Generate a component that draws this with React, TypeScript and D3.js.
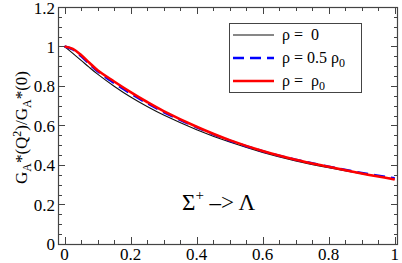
import React, { useEffect, useRef } from 'react';
import * as d3 from 'd3';

// Q^2 grid and the three density curves
const q2 = [0, 0.025, 0.05, 0.075, 0.1, 0.15, 0.2, 0.25, 0.3, 0.4, 0.5, 0.6, 0.7, 0.8, 0.9, 1.0];
const rho0 = [1, 0.965, 0.93, 0.894, 0.86, 0.799, 0.744, 0.696, 0.653, 0.579, 0.516, 0.464, 0.421, 0.386, 0.356, 0.329];
const rhoHalf = [1, 0.985, 0.951, 0.912, 0.874, 0.815, 0.762, 0.713, 0.668, 0.591, 0.524, 0.47, 0.427, 0.392, 0.36, 0.333];
const rhoFull = [1, 0.988, 0.957, 0.918, 0.88, 0.823, 0.769, 0.719, 0.673, 0.594, 0.526, 0.471, 0.427, 0.391, 0.357, 0.327];

const xTicks = [0, 0.2, 0.4, 0.6, 0.8, 1];
const xTickLabels = ['0', '0.2', '0.4', '0.6', '0.8', '1'];
const yTicks = [0, 0.2, 0.4, 0.6, 0.8, 1, 1.2];
const yTickLabels = ['0', '0.2', '0.4', '0.6', '0.8', '1', '1.2'];

const width = 402;
const height = 263;
const margin = { top: 7, right: 4, bottom: 19, left: 58 };
const font = "'Liberation Serif', 'Times New Roman', Times, serif";

const App = () => {
  const svgRef = useRef(null);

  useEffect(() => {
    const svg = d3.select(svgRef.current);
    svg.selectAll('*').remove();

    const x = d3.scaleLinear().domain([-0.02, 1.01]).range([margin.left, width - margin.right]);
    const y = d3.scaleLinear().domain([0, 1.2]).range([height - margin.bottom, margin.top]);
    const axisColor = '#444';

    const x0 = x.range()[0], x1 = x.range()[1];
    const y0 = y.range()[0], y1 = y.range()[1];

    // ticks, inward, on all four sides
    const minorX = d3.range(0, 1.001, 0.05);
    const minorY = d3.range(0, 1.201, 0.05);
    const g = svg.append('g').attr('stroke', axisColor).attr('stroke-width', 1);
    minorX.forEach(v => {
      const major = xTicks.some(t => Math.abs(t - v) < 1e-6);
      const len = major ? 7 : 4;
      const px = Math.round(x(v)) + 0.5;
      g.append('line').attr('x1', px).attr('x2', px).attr('y1', y0).attr('y2', y0 - len);
      g.append('line').attr('x1', px).attr('x2', px).attr('y1', y1).attr('y2', y1 + len);
    });
    minorY.forEach(v => {
      const major = yTicks.some(t => Math.abs(t - v) < 1e-6);
      const len = major ? 7 : 4;
      const py = Math.round(y(v)) + 0.5;
      g.append('line').attr('y1', py).attr('y2', py).attr('x1', x0).attr('x2', x0 + len);
      g.append('line').attr('y1', py).attr('y2', py).attr('x1', x1).attr('x2', x1 - len);
    });

    // curves
    const line = d3.line<number>()
      .x((_, i) => x(q2[i]))
      .y(d => y(d))
      .curve(d3.curveCatmullRom.alpha(0.5));

    svg.append('path').datum(rho0).attr('d', line).attr('fill', 'none')
      .attr('stroke', '#111').attr('stroke-width', 1.1);
    svg.append('path').datum(rhoHalf).attr('d', line).attr('fill', 'none')
      .attr('stroke', '#0000ff').attr('stroke-width', 2.4).attr('stroke-dasharray', '11,6');
    svg.append('path').datum(rhoFull).attr('d', line).attr('fill', 'none')
      .attr('stroke', '#ff0000').attr('stroke-width', 2.6);

    // frame
    svg.append('rect').attr('x', x0 + 0.5).attr('y', y1 + 0.5)
      .attr('width', x1 - x0 - 1).attr('height', y0 - y1)
      .attr('fill', 'none').attr('stroke', axisColor).attr('stroke-width', 1.2);

    // tick labels
    xTicks.forEach((t, i) => {
      svg.append('text').attr('x', x(t)).attr('y', 260)
        .attr('text-anchor', 'middle').style('font-family', font).style('font-size', '17px')
        .text(xTickLabels[i]);
    });
    yTicks.forEach((t, i) => {
      svg.append('text').attr('x', 55).attr('y', Math.max(y(t) + 6, 14))
        .attr('text-anchor', 'end').style('font-family', font).style('font-size', '17px')
        .text(yTickLabels[i]);
    });

    // y label
    const yl = svg.append('text')
      .attr('transform', `translate(27,${(y0 + y1) / 2 + 2}) rotate(-90)`)
      .attr('text-anchor', 'middle').style('font-family', font).style('font-size', '17px');
    yl.append('tspan').text('G');
    yl.append('tspan').style('font-size', '12px').attr('dy', 4).text('A');
    yl.append('tspan').attr('dy', -4).text('*(Q');
    yl.append('tspan').style('font-size', '12px').attr('dy', -6).text('2');
    yl.append('tspan').attr('dy', 6).text(')/G');
    yl.append('tspan').style('font-size', '12px').attr('dy', 4).text('A');
    yl.append('tspan').attr('dy', -4).text('*(0)');

    // reaction label
    const rl = svg.append('text').attr('x', 182).attr('y', 210)
      .style('font-family', font).style('font-size', '23px');
    rl.append('tspan').text('Σ');
    rl.append('tspan').style('font-size', '15px').attr('dy', -10).text('+');
    rl.append('tspan').attr('dy', 10).text(' –> Λ');

    // legend
    const lg = svg.append('g');
    lg.append('rect').attr('x', 229.5).attr('y', 23.5).attr('width', 132).attr('height', 69)
      .attr('fill', 'white').attr('stroke', axisColor).attr('stroke-width', 1);
    const items = [
      { color: '#111', w: 1.1, dash: null, parts: ['ρ =  0'] },
      { color: '#0000ff', w: 2.4, dash: '11,6', parts: ['ρ = 0.5 ρ', '0'] },
      { color: '#ff0000', w: 2.6, dash: null, parts: ['ρ =  ρ', '0'] },
    ];
    items.forEach((it, i) => {
      const cy = 35 + i * 23;
      lg.append('line').attr('x1', 233).attr('x2', 274).attr('y1', cy).attr('y2', cy)
        .attr('stroke', it.color).attr('stroke-width', it.w)
        .attr('stroke-dasharray', it.dash);
      const t = lg.append('text').attr('x', 282).attr('y', cy + 5)
        .style('font-family', font).style('font-size', '16px')
        .style('white-space', 'pre');
      t.append('tspan').text(it.parts[0]);
      if (it.parts[1]) t.append('tspan').style('font-size', '12px').attr('dy', 4).text(it.parts[1]);
    });
  }, []);

  return (
    <svg ref={svgRef} width={width} height={height}
      style={{ position: 'absolute', left: 0, top: 0, background: 'white' }} />
  );
};

export default App;
